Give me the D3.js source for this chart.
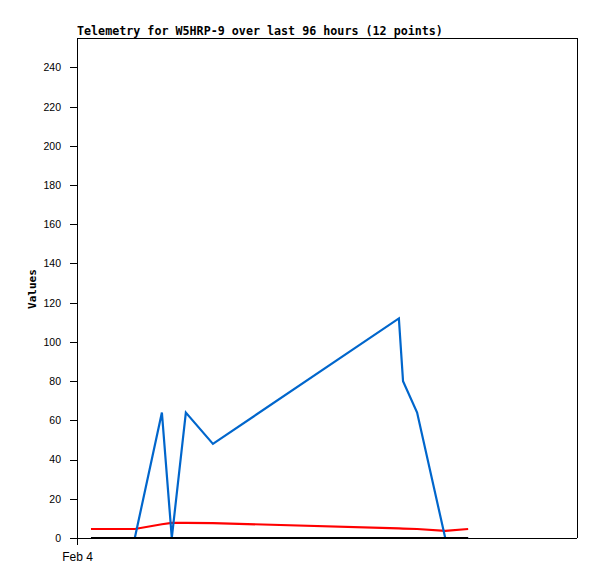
<!DOCTYPE html>
<html>
<head>
<meta charset="utf-8">
<script src="https://cdn.jsdelivr.net/npm/d3@7"></script>
<style>
  body { margin: 0; background: #fff; }
  svg { display: block; }
</style>
</head>
<body>
<script>
// telemetry samples (times, values in channel units)
var times = ["2024-02-04T02:41", "2024-02-04T11:06", "2024-02-04T16:18", "2024-02-04T18:12",
             "2024-02-04T20:54", "2024-02-05T02:06", "2024-02-06T13:48", "2024-02-06T14:36",
             "2024-02-06T17:18", "2024-02-06T22:42", "2024-02-07T03:06"];
var blueVals = [0, 0, 64, 0, 64, 48, 112, 80, 64, 0, 0];
var redVals = [4.6, 4.6, 7.0, 7.7, 7.7, 7.6, 4.9, 4.8, 4.6, 3.6, 4.6];
var blackVals = [0, 0, 0, 0, 0, 0, 0, 0, 0, 0, 0];
var yTicks = [0, 20, 40, 60, 80, 100, 120, 140, 160, 180, 200, 220, 240];
var xTickLabels = ["Feb 4"];
var title = "Telemetry for W5HRP-9 over last 96 hours (12 points)";

var W = 597, H = 579;
var margin = {top: 38, right: 20, bottom: 41, left: 77};
var width = W - margin.left - margin.right,   // 500
    height = H - margin.top - margin.bottom;  // 500

var parse = d3.timeParse("%Y-%m-%dT%H:%M");
var t0 = parse("2024-02-04T00:00");
var t1 = d3.timeHour.offset(t0, 96);

var x = d3.scaleTime().domain([t0, t1]).range([0, width]);
var y = d3.scaleLinear().domain([0, 255]).range([height, 0]);

var svg = d3.select("body").append("svg")
  .attr("width", W).attr("height", H);

svg.append("rect").attr("width", W).attr("height", H).attr("fill", "#fff");

var g = svg.append("g")
  .attr("transform", "translate(" + margin.left + "," + margin.top + ")");

// frame (top + right)
g.append("path")
  .attr("d", "M0,0.5H" + (width + 0.5) + "V" + height)
  .attr("fill", "none").attr("stroke", "#000").attr("shape-rendering", "crispEdges");

// y axis
var yAxis = d3.axisLeft(y).tickValues(yTicks).tickSize(7).tickPadding(9);
var ya = g.append("g").call(yAxis);
ya.select(".domain").remove();
ya.selectAll("line").attr("stroke", "#000").attr("shape-rendering", "crispEdges");
ya.selectAll("text")
  .attr("font-family", "'Liberation Sans', Arial, sans-serif")
  .attr("font-size", "10.5px").attr("fill", "#000");
g.append("line")
  .attr("x1", 0).attr("x2", 0).attr("y1", 0).attr("y2", height + 7)
  .attr("stroke", "#000").attr("shape-rendering", "crispEdges");

// x axis
var xAxis = d3.axisBottom(x).tickValues([t0]).tickSize(7).tickPadding(7)
  .tickFormat(function(d, i) { return xTickLabels[i]; });
var xa = g.append("g").attr("transform", "translate(0," + height + ")").call(xAxis);
xa.select(".domain").remove();
xa.selectAll("line").attr("stroke", "#000").attr("shape-rendering", "crispEdges");
xa.selectAll("text")
  .attr("font-family", "'Liberation Sans', Arial, sans-serif")
  .attr("font-size", "12px").attr("fill", "#000");
g.append("line")
  .attr("x1", -7).attr("x2", width).attr("y1", height + 0.5).attr("y2", height + 0.5)
  .attr("stroke", "#000").attr("shape-rendering", "crispEdges");

// series, drawn red -> blue -> black (black zero line sits on top)
var series = [
  {vals: redVals, color: "#ff0000"},
  {vals: blueVals, color: "#0066cc"},
  {vals: blackVals, color: "#000000"}
];
var line = d3.line()
  .x(function(d) { return x(d.t); })
  .y(function(d) { return y(d.v); });

series.forEach(function(s) {
  var pts = times.map(function(t, i) { return {t: parse(t), v: s.vals[i]}; });
  g.append("path")
    .datum(pts)
    .attr("d", line)
    .attr("fill", "none")
    .attr("stroke", s.color)
    .attr("stroke-width", 2.2)
    .attr("stroke-linejoin", "miter");
});

// title
svg.append("text")
  .attr("x", margin.left).attr("y", 35)
  .attr("font-family", "'DejaVu Sans Mono', monospace")
  .attr("font-weight", "bold").attr("font-size", "11.7px")
  .text(title);

// y label
svg.append("text")
  .attr("transform", "translate(36," + (margin.top + height / 2 + 1) + ") rotate(-90)")
  .attr("text-anchor", "middle")
  .attr("font-family", "'DejaVu Sans Mono', monospace")
  .attr("font-weight", "bold").attr("font-size", "11px")
  .text("Values");
</script>
</body>
</html>
